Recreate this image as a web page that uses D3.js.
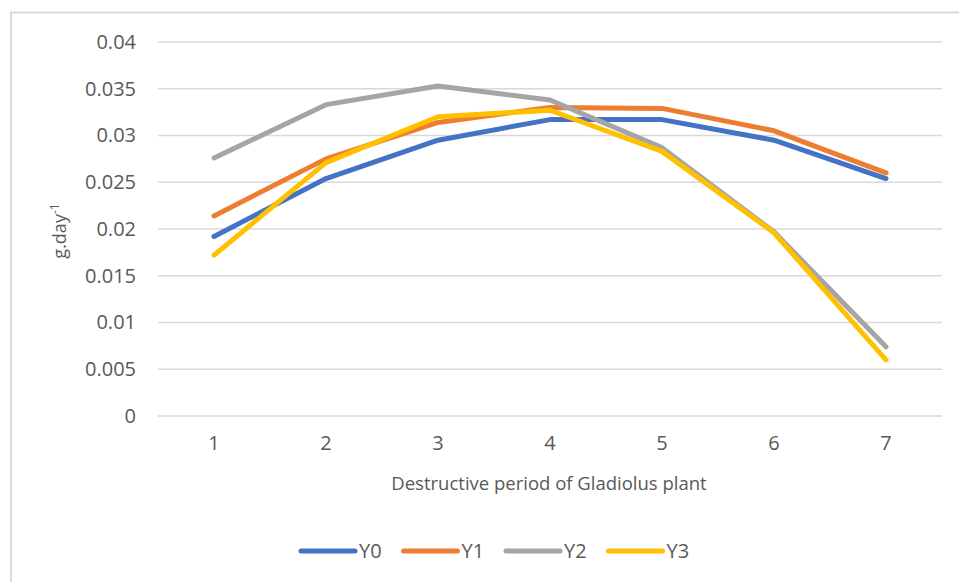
<!DOCTYPE html>
<html>
<head>
<meta charset="utf-8">
<script src="https://cdn.jsdelivr.net/npm/d3@7"></script>
<style>
	body { margin: 0; background: #fff; }
	svg text { font-family: "Open Sans", sans-serif; fill: #595959; }
</style>
</head>
<body>
<div id="chart"></div>
<script>
// periods on the x axis
let periods		= [1, 2, 3, 4, 5, 6, 7];
let seriesNames	= ["Y0", "Y1", "Y2", "Y3"];
let y0Values	= [0.0192, 0.0254, 0.0295, 0.0317, 0.0317, 0.0295, 0.0254];
let y1Values	= [0.0214, 0.0275, 0.0314, 0.0330, 0.0329, 0.0305, 0.0260];
let y2Values	= [0.0276, 0.0333, 0.0353, 0.0338, 0.0287, 0.0197, 0.0074];
let y3Values	= [0.0172, 0.0271, 0.0320, 0.0327, 0.0283, 0.0196, 0.0060];
let yTicks		= [0, 0.005, 0.01, 0.015, 0.02, 0.025, 0.03, 0.035, 0.04];
let palette		= ["#4472C4", "#ED7D31", "#A5A5A5", "#FFC000"];

let series = seriesNames.map((name, i) => ({
	name: name,
	color: palette[i],
	values: [y0Values, y1Values, y2Values, y3Values][i]
}));

let canvasWidth		= 959;
let canvasHeight	= 582;
let margin			= { top: 42, right: 17, bottom: 166, left: 158 };
let width			= canvasWidth - margin.left - margin.right;
let height			= canvasHeight - margin.top - margin.bottom;

let x = d3.scaleBand().range([0, width]).padding(0).domain(periods);
let y = d3.scaleLinear().range([height, 0]).domain([0, 0.04]);

let root = d3.select("#chart").append("svg")
	.attr("width", canvasWidth)
	.attr("height", canvasHeight);

// chart frame (cropped on the right and bottom)
root.append("path")
	.attr("d", "M11,582 V12.5 H959")
	.attr("fill", "none")
	.attr("stroke", "#d9d9d9")
	.attr("stroke-width", 2);

let svg = root.append("g")
	.attr("transform", "translate(" + margin.left + "," + margin.top + ")");

// gridlines
svg.append("g")
	.attr("class", "grid")
	.selectAll("line")
	.data(yTicks)
	.enter().append("line")
		.attr("x1", 0)
		.attr("x2", width)
		.attr("y1", (o) => y(o))
		.attr("y2", (o) => y(o))
		.attr("stroke", "#d9d9d9")
		.attr("stroke-width", 1.5);

// y axis labels
let yAxis = svg.append("g")
	.call(d3.axisLeft(y).tickValues(yTicks).tickSize(0).tickPadding(22).tickFormat((o) => String(+o.toFixed(3))));
yAxis.select(".domain").remove();
yAxis.selectAll("text")
	.style("font-family", "Open Sans, sans-serif")
	.style("font-size", "20px")
	.attr("fill", "#595959");

// x axis labels
let xAxis = svg.append("g")
	.attr("transform", "translate(0," + height + ")")
	.call(d3.axisBottom(x).tickSize(0).tickPadding(20));
xAxis.select(".domain").remove();
xAxis.selectAll("text")
	.style("font-family", "Open Sans, sans-serif")
	.style("font-size", "20px")
	.attr("fill", "#595959");

// axis titles
svg.append("text")
	.attr("x", width / 2 - 1)
	.attr("y", height + 74)
	.attr("text-anchor", "middle")
	.style("font-size", "18.5px")
	.text("Destructive period of Gladiolus plant");

let yTitle = svg.append("text")
	.attr("transform", "translate(" + (-92) + "," + (height / 2 + 2) + ") rotate(-90)")
	.attr("text-anchor", "middle")
	.style("font-size", "18px");
yTitle.append("tspan").text("g.day");
yTitle.append("tspan").attr("dy", -7).style("font-size", "12px").text("-1");

// lines
let line = d3.line()
	.x((o, i) => x(periods[i]) + x.bandwidth() / 2)
	.y((o) => y(o));

svg.append("g")
	.selectAll("path")
	.data(series)
	.enter().append("path")
		.attr("d", (o) => line(o.values))
		.attr("fill", "none")
		.attr("stroke", (o) => o.color)
		.attr("stroke-width", 5)
		.attr("stroke-linejoin", "round")
		.attr("stroke-linecap", "round");

// legend
let legend = root.append("g")
	.attr("transform", "translate(301,551)");

let item = legend.selectAll("g")
	.data(series)
	.enter().append("g")
		.attr("transform", (o, i) => "translate(" + (i * 102.5) + ",0)");

item.append("line")
	.attr("x1", 0)
	.attr("x2", 54)
	.attr("stroke", (o) => o.color)
	.attr("stroke-width", 5)
	.attr("stroke-linecap", "round");

item.append("text")
	.attr("x", 58)
	.attr("dy", "0.36em")
	.style("font-size", "20px")
	.text((o) => o.name);
</script>
</body>
</html>
